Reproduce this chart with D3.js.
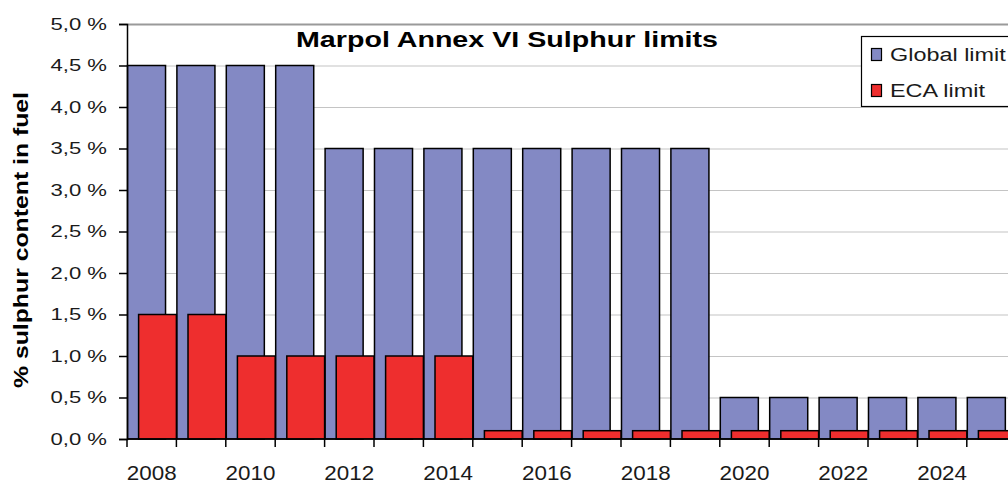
<!DOCTYPE html>
<html>
<head>
<meta charset="utf-8">
<script src="https://cdn.jsdelivr.net/npm/d3@7"></script>
<style>
  body { margin: 0; background: #fff; }
  svg { display: block; font-family: "Liberation Sans", Arial, sans-serif; }
</style>
</head>
<body>
<div id="chart"></div>
<script>
var svgWidth = 1008;
var svgHeight = 483;

// data
var years = [2008, 2009, 2010, 2011, 2012, 2013, 2014, 2015, 2016, 2017, 2018, 2019, 2020, 2021, 2022, 2023, 2024, 2025];
var globalLimit = [4.5, 4.5, 4.5, 4.5, 3.5, 3.5, 3.5, 3.5, 3.5, 3.5, 3.5, 3.5, 0.5, 0.5, 0.5, 0.5, 0.5, 0.5];
var ecaLimit = [1.5, 1.5, 1.0, 1.0, 1.0, 1.0, 1.0, 0.1, 0.1, 0.1, 0.1, 0.1, 0.1, 0.1, 0.1, 0.1, 0.1, 0.1];
var yTicks = [0, 0.5, 1.0, 1.5, 2.0, 2.5, 3.0, 3.5, 4.0, 4.5, 5.0];
var xLabels = [2008, 2010, 2012, 2014, 2016, 2018, 2020, 2022, 2024];
var seriesNames = ["Global limit", "ECA limit"];
var seriesColors = ["#8389c4", "#ee2e2e"];

var plotLeft = 127, plotTop = 24, plotBottom = 439;
var band = 49.4;

var svg = d3.select("#chart")
    .append("svg")
    .attr("width", svgWidth)
    .attr("height", svgHeight);

var x = d3.scaleBand()
    .domain(years)
    .range([plotLeft, plotLeft + band * years.length])
    .padding(0);

var y = d3.scaleLinear()
    .domain([0, 5])
    .range([plotBottom, plotTop]);

// stretch text horizontally like the (widened) original
function stretch(sel, k) {
    sel.each(function () {
        var l = this.getComputedTextLength();
        d3.select(this).attr("textLength", l * k).attr("lengthAdjust", "spacingAndGlyphs");
    });
}

// gridlines
svg.append("g")
    .selectAll("line")
    .data(yTicks.filter(d => d > 0))
    .enter()
    .append("line")
    .attr("x1", plotLeft)
    .attr("x2", svgWidth)
    .attr("y1", d => y(d) + 0.5)
    .attr("y2", d => y(d) + 0.5)
    .attr("stroke", d => d === 5 ? "#9a9a9a" : "#c4c4c4")
    .attr("stroke-width", d => d === 5 ? 2 : 1.2);

// global bars first, ECA on top shifted right
var bw = x.bandwidth();
svg.append("g")
    .selectAll("rect")
    .data(years)
    .enter()
    .append("rect")
    .attr("x", d => x(d) + bw * 0.01)
    .attr("width", bw * 0.77)
    .attr("y", (d, i) => y(globalLimit[i]))
    .attr("height", (d, i) => y(0) - y(globalLimit[i]))
    .attr("fill", seriesColors[0])
    .attr("stroke", "#000")
    .attr("stroke-width", 1.5);

svg.append("g")
    .selectAll("rect")
    .data(years)
    .enter()
    .append("rect")
    .attr("x", d => x(d) + bw * 0.235)
    .attr("width", bw * 0.765)
    .attr("y", (d, i) => y(ecaLimit[i]))
    .attr("height", (d, i) => y(0) - y(ecaLimit[i]))
    .attr("fill", seriesColors[1])
    .attr("stroke", "#000")
    .attr("stroke-width", 1.5);

// y axis
var yAxis = d3.axisLeft(y)
    .tickValues(yTicks)
    .tickSize(8)
    .tickPadding(12)
    .tickFormat(d => d3.format(".1f")(d).replace(".", ",") + " %");

var yg = svg.append("g")
    .attr("transform", `translate(${plotLeft},0)`)
    .call(yAxis);
yg.select(".domain").attr("stroke", "#000").attr("stroke-width", 1.5);
yg.selectAll(".tick line").attr("stroke", "#000").attr("stroke-width", 1.5);
yg.selectAll("text")
    .attr("font-size", 17)
    .attr("fill", "#1a1a1a")
    .call(stretch, 1.3);

// x axis: ticks at category boundaries, labels every other year
var xg = svg.append("g")
    .attr("transform", `translate(0,${plotBottom})`);
xg.append("line")
    .attr("x1", plotLeft)
    .attr("x2", svgWidth)
    .attr("stroke", "#000")
    .attr("stroke-width", 1.5);
xg.selectAll(".xtick")
    .data(years)
    .enter()
    .append("line")
    .attr("class", "xtick")
    .attr("x1", d => x(d))
    .attr("x2", d => x(d))
    .attr("y1", 0)
    .attr("y2", 8)
    .attr("stroke", "#000")
    .attr("stroke-width", 1.5);
xg.selectAll(".xlabel")
    .data(xLabels)
    .enter()
    .append("text")
    .attr("class", "xlabel")
    .attr("x", d => x(d) + bw / 2)
    .attr("y", 41)
    .attr("text-anchor", "middle")
    .attr("font-size", 20)
    .attr("fill", "#1a1a1a")
    .text(d => d)
    .call(stretch, 1.12);

// title
svg.append("text")
    .attr("x", 507)
    .attr("y", 47)
    .attr("text-anchor", "middle")
    .attr("font-size", 22)
    .attr("font-weight", "bold")
    .attr("fill", "#000")
    .attr("textLength", 422)
    .attr("lengthAdjust", "spacingAndGlyphs")
    .text("Marpol Annex VI Sulphur limits");

// y axis title
svg.append("text")
    .attr("transform", "translate(28,240) rotate(-90)")
    .attr("text-anchor", "middle")
    .attr("font-size", 20)
    .attr("font-weight", "bold")
    .attr("fill", "#000")
    .attr("textLength", 296)
    .attr("lengthAdjust", "spacingAndGlyphs")
    .text("% sulphur content in fuel");

// legend
var legend = svg.append("g");
legend.append("rect")
    .attr("x", 861.5)
    .attr("y", 36.5)
    .attr("width", 170)
    .attr("height", 70)
    .attr("fill", "#fff")
    .attr("stroke", "#000")
    .attr("stroke-width", 1.2);
var items = legend.selectAll(".item")
    .data(seriesNames)
    .enter()
    .append("g")
    .attr("class", "item")
    .attr("transform", (d, i) => `translate(871,${48 + i * 36})`);
items.append("rect")
    .attr("x", 0.5)
    .attr("y", 0.5)
    .attr("width", 10)
    .attr("height", 12)
    .attr("fill", (d, i) => seriesColors[i])
    .attr("stroke", "#000")
    .attr("stroke-width", 1.2);
items.append("text")
    .attr("x", 19)
    .attr("y", 13)
    .attr("font-size", 18)
    .attr("fill", "#1a1a1a")
    .text(d => d)
    .call(stretch, 1.3);
</script>
</body>
</html>
